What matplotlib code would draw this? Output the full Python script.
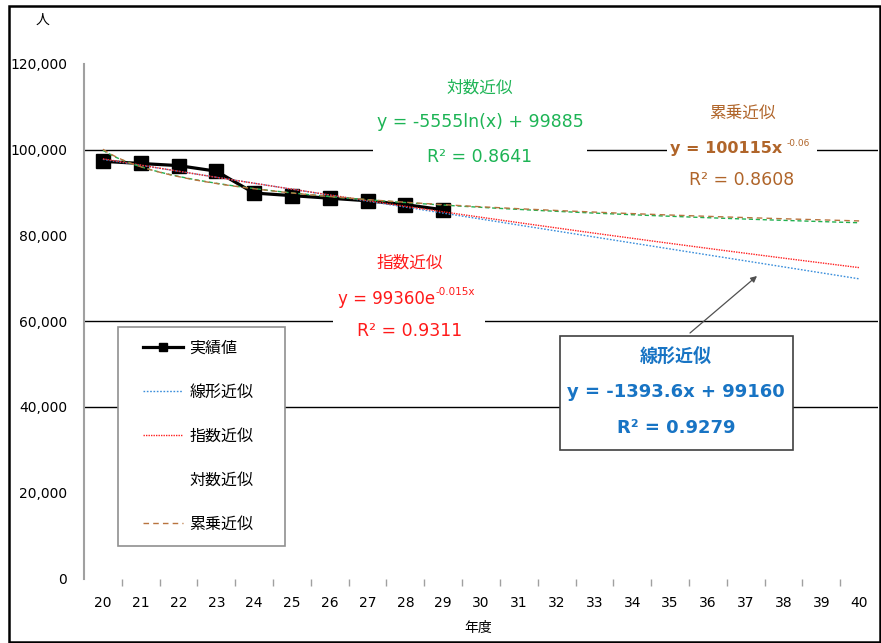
import numpy as np
import matplotlib
matplotlib.use("Agg")
import matplotlib.pyplot as plt
from matplotlib.patches import Rectangle
from matplotlib.lines import Line2D
from matplotlib.ticker import FuncFormatter, FixedLocator

# ---------------- data ----------------
years = [str(v) for v in range(20, 41)]          # category labels 20..40
actual_years = years[:10]
actual_values = [97300, 96800, 96300, 95000, 89900, 89300, 88700, 88100, 87200, 86000]

# trendline coefficients shown on the chart (x = 1..21)
lin_coef = [-1393.6, 99160]        # y = a x + b
exp_coef = [99360, -0.015]         # y = a e^(b x)
log_coef = [-5555, 99885]          # y = a ln(x) + b
pow_coef = [100115, -0.06]         # y = a x^b

legend_labels = ["実績値", "線形近似", "指数近似", "対数近似", "累乗近似"]
y_ticks = [0, 20000, 40000, 60000, 80000, 100000, 120000]
grid_values = [40000, 60000, 100000]

# ---------------- figure ----------------
W, H = 881, 643
fig = plt.figure(figsize=(W / 100, H / 100), dpi=100)
JP = ["Noto Sans CJK JP", "DejaVu Sans"]

def P(px, py):
    return (px / W, 1 - py / H)

ax = fig.add_axes([84 / W, 1 - 578.5 / H, (878 - 84) / W, (578.5 - 64) / H])

n = len(years)
xi = np.arange(n)
ax.set_xlim(-0.5, n - 0.5)
ax.set_ylim(0, 120000)

for g in grid_values:
    ax.axhline(g, color="black", lw=1.0, zorder=1)

# actual series
ax.plot(np.arange(len(actual_values)), actual_values, color="black", lw=2.3,
        marker="s", markersize=9.5, zorder=3)

# trendlines
xs = np.linspace(0, n - 1, 401)
xx = xs + 1
ax.plot(xs, lin_coef[0] * xx + lin_coef[1], color="#3A8EDB", lw=1.0,
        ls=(0, (1.2, 1.2)), zorder=4)
ax.plot(xs, exp_coef[0] * np.exp(exp_coef[1] * xx), color="#FF2020", lw=1.0,
        ls=(0, (1, 0.8)), zorder=4)
ax.plot(xs, log_coef[0] * np.log(xx) + log_coef[1], color="#22B050", lw=1.0,
        ls=(0, (3, 2)), zorder=4)
ax.plot(xs, pow_coef[0] * xx ** pow_coef[1], color="#B8743F", lw=1.0,
        ls=(0, (4, 3)), zorder=4)

# axes styling
for s in ["top", "right", "bottom"]:
    ax.spines[s].set_visible(False)
ax.spines["left"].set_color("#A0A0A0")
ax.spines["left"].set_linewidth(1.5)

ax.set_yticks(y_ticks)
ax.yaxis.set_major_formatter(FuncFormatter(lambda v, p: f"{int(v):,}"))
ax.tick_params(axis="y", length=0, pad=12, labelsize=10)

ax.set_xticks(xi)
ax.set_xticklabels(years)
ax.xaxis.set_minor_locator(FixedLocator(np.arange(0.5, n - 1, 1.0)))
ax.tick_params(axis="x", which="major", length=0, pad=12.5, labelsize=10)
ax.tick_params(axis="x", which="minor", length=5, color="#A0A0A0", width=1.0,
               direction="out")

# axis titles
fig.text(*P(478, 628), "年度", ha="center", va="center", fontsize=10, family=JP)
fig.text(*P(42, 20), "人", ha="center", va="center", fontsize=10, family=JP)

# white covers interrupting gridlines
for (x0, y0, x1, y1) in [(373, 75, 587, 170), (667, 98, 817, 195), (333, 248, 485, 345)]:
    fig.add_artist(Rectangle(P(x0, y1), (x1 - x0) / W, (y1 - y0) / H,
                             transform=fig.transFigure, facecolor="white",
                             edgecolor="none", zorder=1))

# log annotation
cg = "#1DB455"
fig.text(*P(480, 88), "対数近似", ha="center", va="center", fontsize=12, color=cg, family=JP, zorder=3)
fig.text(*P(480, 122), "y = -5555ln(x) + 99885", ha="center", va="center", fontsize=12.5, color=cg, zorder=3)
fig.text(*P(480, 157), "R² = 0.8641", ha="center", va="center", fontsize=12.5, color=cg, zorder=3)

# power annotation
cb = "#B0652A"
fig.text(*P(742, 113), "累乗近似", ha="center", va="center", fontsize=12, color=cb, family=JP, zorder=3)
fig.text(*P(782, 149), "y = 100115x", ha="right", va="center", fontsize=11.5, color=cb, fontweight="bold", zorder=3)
fig.text(*P(787, 143), "-0.06", ha="left", va="center", fontsize=6.5, color=cb, zorder=3)
fig.text(*P(742, 180), "R² = 0.8608", ha="center", va="center", fontsize=12.5, color=cb, zorder=3)

# exponential annotation
cr = "#FF1A1A"
fig.text(*P(410, 263), "指数近似", ha="center", va="center", fontsize=12, color=cr, family=JP, zorder=3)
fig.text(*P(435, 299), "y = 99360e", ha="right", va="center", fontsize=12, color=cr, zorder=3)
fig.text(*P(435, 292), "-0.015x", ha="left", va="center", fontsize=7.5, color=cr, zorder=3)
fig.text(*P(410, 331), "R² = 0.9311", ha="center", va="center", fontsize=12.5, color=cr, zorder=3)

# linear annotation box
fig.add_artist(Rectangle(P(560, 450), (793 - 560) / W, (450 - 336) / H,
                         transform=fig.transFigure, facecolor="white",
                         edgecolor="#404040", lw=1.2, zorder=1))
cl = "#1874C4"
fig.text(*P(676, 357), "線形近似", ha="center", va="center", fontsize=13, color=cl, family=JP, fontweight="bold", zorder=3)
fig.text(*P(676, 392), "y = -1393.6x + 99160", ha="center", va="center", fontsize=13, color=cl, fontweight="bold", zorder=3)
fig.text(*P(676, 428), "R² = 0.9279", ha="center", va="center", fontsize=13, color=cl, fontweight="bold", zorder=3)

ax.annotate("", xy=P(757, 276), xycoords="figure fraction",
            xytext=P(690, 333), textcoords="figure fraction",
            arrowprops=dict(arrowstyle="-|>", color="#505050", lw=0.9,
                            mutation_scale=9, shrinkA=0, shrinkB=0), zorder=6)

# legend
fig.add_artist(Rectangle(P(118, 546), (285 - 118) / W, (546 - 327) / H,
                         transform=fig.transFigure, facecolor="white",
                         edgecolor="#909090", lw=1.2, zorder=1))
handles = [
    Line2D([], [], color="black", lw=2.3, marker="s", markersize=6),
    Line2D([], [], color="#3A8EDB", lw=1.0, ls=(0, (1.2, 1.2))),
    Line2D([], [], color="#FF2020", lw=1.0, ls=(0, (1, 0.8))),
    Line2D([], [], color="white", lw=0, alpha=0),
    Line2D([], [], color="#B8743F", lw=1.0, ls=(0, (4, 3))),
]
leg = fig.legend(handles, legend_labels, loc="upper left",
                 bbox_to_anchor=P(143, 340), bbox_transform=fig.transFigure,
                 frameon=False, borderpad=0, borderaxespad=0, handlelength=2.5,
                 handletextpad=0.4, labelspacing=1.68, prop={"family": JP, "size": 11.5})
leg.set_zorder(3)

# outer chart frame
fig.add_artist(Rectangle((8.5 / W, 1.5 / H), (879.5 - 8.5) / W, (639.5 - 3.5) / H,
                         transform=fig.transFigure, facecolor="none",
                         edgecolor="black", lw=1.8, zorder=5))

fig.savefig("out.png", dpi=100)
